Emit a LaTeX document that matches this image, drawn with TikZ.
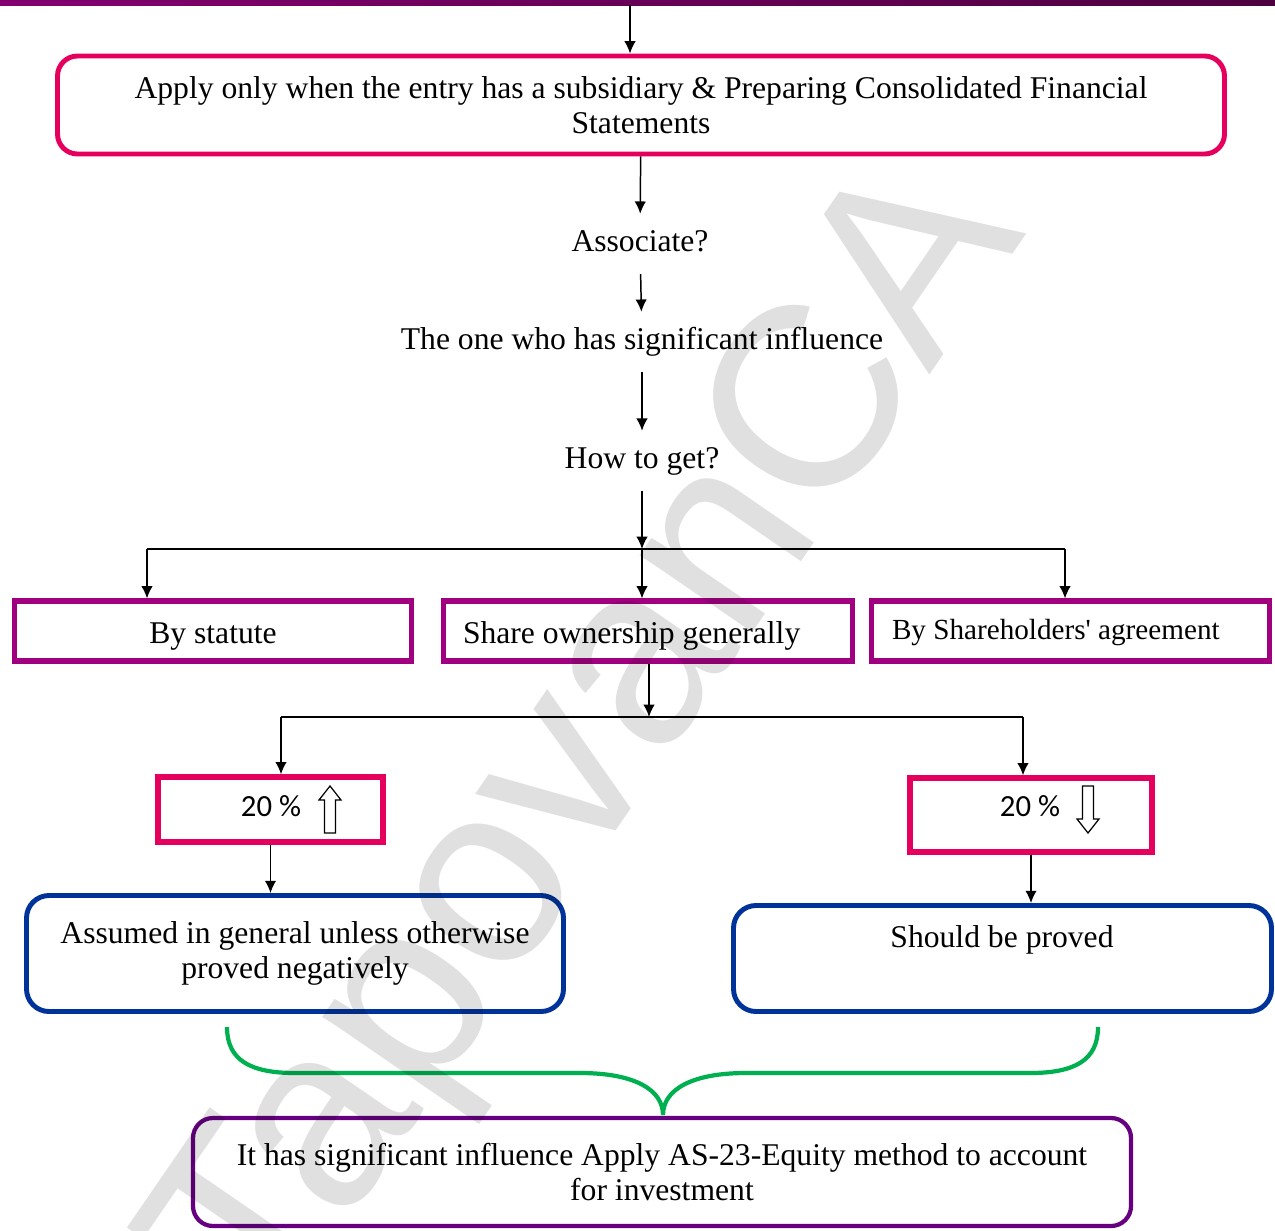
\documentclass[tikz,border=0pt]{standalone}
\usepackage{fontspec}
\setmainfont{Liberation Serif}
\newfontfamily\pctfont{Carlito}
\newfontfamily\markfont{Liberation Sans}
\usepackage{tikz}
\usetikzlibrary{arrows.meta}

\definecolor{boxred}{RGB}{228,0,92}
\definecolor{boxpurple}{RGB}{160,0,128}
\definecolor{boxblue}{RGB}{0,51,153}
\definecolor{boxviolet}{RGB}{102,0,128}
\definecolor{bracegreen}{RGB}{0,176,80}
\definecolor{barleft}{RGB}{130,0,112}
\definecolor{barright}{RGB}{78,0,62}

\tikzset{
  arr/.style={-{Latex[length=7pt,width=6.5pt]}, line width=0.85pt},
  link/.style={line width=0.85pt},
  question/.style={text height=12pt, text depth=4pt, inner ysep=9pt},
  roundred/.style={draw=boxred, line width=2.8pt, rounded corners=0.4cm, align=center},
  flatpurple/.style={draw=boxpurple, line width=2.9pt, text height=16pt, text depth=2pt},
  flatred/.style={draw=boxred, line width=3pt},
  roundblue/.style={draw=boxblue, line width=2.8pt, rounded corners=0.45cm, align=center},
  roundviolet/.style={draw=boxviolet, line width=2.4pt, rounded corners=0.4cm, align=center},
  brace/.style={draw=bracegreen, line width=2.4pt},
  hollow/.style={draw, line width=0.7pt, fill=white, line join=miter}
}

\begin{document}
\begin{tikzpicture}[font=\fontsize{18}{19.8}\selectfont]
\useasboundingbox (0cm,0cm) rectangle (25.5cm,-24.6cm);

% bar along the top edge
\shade[left color=barleft, right color=barright] (0cm,0cm) rectangle (25.5cm,-0.11cm);
\coordinate (top) at (12.6cm,-0.11cm);

\draw (12.82cm,-2.1cm) node (11) [roundred, minimum width=23.34cm, minimum height=1.96cm]
  {Apply only when the entry has a subsidiary \& Preparing Consolidated Financial\\ Statements};
\draw[arr] (top) -- (top |- 11.north);

\draw (12.8cm,-4.88cm) node (21) [question] {Associate?};
\draw[arr] (11) -- (21);

\draw (12.84cm,-6.84cm) node (31) [question] {The one who has significant influence};
\draw[arr] (21) -- (31);

\draw (12.84cm,-9.22cm) node (41) [question] {How to get?};
\draw[arr] (31) -- (41);

% three ways
\coordinate (s5) at (12.84cm,-10.98cm);
\coordinate (s5l) at (2.94cm,-10.98cm);
\coordinate (s5r) at (21.3cm,-10.98cm);
\draw (4.26cm,-12.62cm) node (51) [flatpurple, minimum width=7.94cm, minimum height=1.2cm] {By statute};
\draw (12.96cm,-12.62cm) node (52) [flatpurple, minimum width=8.18cm, minimum height=1.2cm,
  text width=7.4cm, inner xsep=0.39cm, align=flush left] {Share ownership generally};
\draw (21.41cm,-12.62cm) node (53) [flatpurple, minimum width=7.96cm, minimum height=1.2cm,
  text width=7.14cm, inner xsep=0.41cm, align=flush left]
  {\fontsize{16.6}{19.8}\selectfont\raisebox{2pt}{By Shareholders\textquotesingle\ agreement}};
\draw[arr] (41) -- (s5);
\draw[link] (s5l) -- (s5r);
\draw[arr] (s5l) -- (s5l |- 51.north);
\draw[arr] (s5) -- (s5 |- 52.north);
\draw[arr] (s5r) -- (s5r |- 53.north);

% share split
\coordinate (s6) at (12.98cm,-14.34cm);
\coordinate (s6l) at (5.62cm,-14.34cm);
\coordinate (s6r) at (20.46cm,-14.34cm);
\draw[arr] (52.south -| s6) -- (s6);
\draw[link] (s6l) -- (s6r);

\draw (5.41cm,-16.19cm) node (61) [flatred, minimum width=4.5cm, minimum height=1.3cm] {};
\draw (5.42cm,-16.12cm) node (62) {\pctfont\fontsize{17.5}{19.8}\selectfont 20 \%};
\draw[hollow] (6.6cm,-15.72cm) -- ++(0.22cm,-0.28cm) -- ++(-0.11cm,0cm) -- ++(0cm,-0.66cm)
  -- ++(-0.22cm,0cm) -- ++(0cm,0.66cm) -- ++(-0.11cm,0cm) -- cycle;
\draw (20.62cm,-16.3cm) node (63) [flatred, minimum width=4.84cm, minimum height=1.48cm] {};
\draw (20.6cm,-16.12cm) node (64) {\pctfont\fontsize{17.5}{19.8}\selectfont 20 \%};
\draw[hollow] (21.76cm,-16.66cm) -- ++(0.22cm,0.28cm) -- ++(-0.11cm,0cm) -- ++(0cm,0.66cm)
  -- ++(-0.22cm,0cm) -- ++(0cm,-0.66cm) -- ++(-0.11cm,0cm) -- cycle;
\draw[arr] (s6l) -- (s6l |- 61.north);
\draw[arr] (s6r) -- (s6r |- 63.north);

\draw (5.9cm,-19.07cm) node (71) [roundblue, minimum width=10.74cm, minimum height=2.32cm]
  {Assumed in general unless otherwise\\ proved negatively};
\draw (20.05cm,-19.17cm) node (72) [roundblue, minimum width=10.76cm, minimum height=2.12cm] {};
\draw (20.04cm,-18.8cm) node (73) {Should be proved};
\draw[arr] (61.south) -- (61.south |- 71.north);
\draw[arr] (63.south) -- (63.south |- 72.north);

% brace joining both cases
\draw[brace] (4.54cm,-20.54cm) .. controls (4.54cm,-21.2cm) and (5.0cm,-21.46cm) .. (5.9cm,-21.46cm)
  -- (11.6cm,-21.46cm) .. controls (12.7cm,-21.46cm) and (13.26cm,-21.8cm) .. (13.26cm,-22.3cm)
  .. controls (13.26cm,-21.8cm) and (13.82cm,-21.46cm) .. (14.92cm,-21.46cm)
  -- (20.6cm,-21.46cm) .. controls (21.5cm,-21.46cm) and (21.96cm,-21.2cm) .. (21.96cm,-20.54cm);

\draw (13.24cm,-23.44cm) node (81) [roundviolet, minimum width=18.76cm, minimum height=2.16cm]
  {It has significant influence Apply AS-23-Equity method to account\\ for investment};

% watermark, laid over everything
\begin{scope}
\clip (0cm,0cm) rectangle (25.5cm,-24.6cm);
\draw (20.54cm,-4.66cm) node (wm) [anchor=base east, inner sep=0pt, rotate=55.5, opacity=0.12,
  font=\markfont\fontsize{147}{147}\selectfont] {TapovanCA};
\end{scope}
\end{tikzpicture}
\end{document}
